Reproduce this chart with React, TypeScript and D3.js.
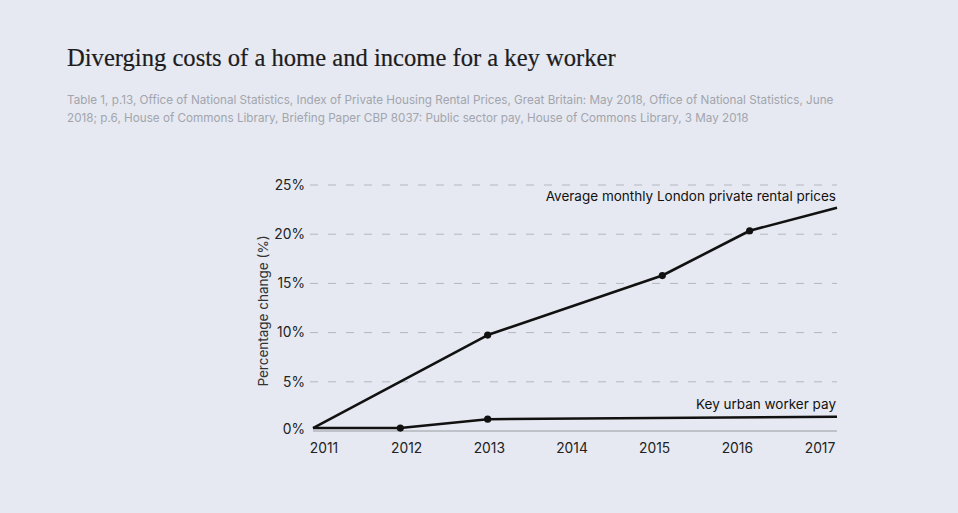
import React from 'react'
import * as d3 from 'd3'

interface Point {
  year: number
  value: number
}

const years = [2011, 2012, 2013, 2014, 2015, 2016, 2017]
const yTicks = [0, 5, 10, 15, 20, 25]

const rentYears = [2011, 2013, 2015, 2016, 2017]
const rentValues = [0.3, 9.75, 15.8, 20.35, 22.7]

const payYears = [2011, 2012, 2013, 2017]
const payValues = [0.3, 0.3, 1.2, 1.45]

const title = 'Diverging costs of a home and income for a key worker'
const sourceLines = [
  'Table 1, p.13, Office of National Statistics, Index of Private Housing Rental Prices, Great Britain: May 2018, Office of National Statistics, June',
  '2018; p.6, House of Commons Library, Briefing Paper CBP 8037: Public sector pay, House of Commons Library, 3 May 2018',
]
const rentLabel = 'Average monthly London private rental prices'
const payLabel = 'Key urban worker pay'
const yLabel = 'Percentage change (%)'

const rent: Point[] = rentYears.map((year, i) => ({ year, value: rentValues[i] }))
const pay: Point[] = payYears.map((year, i) => ({ year, value: payValues[i] }))

const width = 958
const height = 513
const sans = 'Inter, "Noto Sans", sans-serif'

const App = () => {
  const xScale = d3.scaleLinear().domain([2011, 2017]).range([313, 837])
  const yScale = d3.scaleLinear().domain([0, 25]).range([431, 185])
  // labels are spread edge to edge like a space-between row
  const labelScale = d3.scalePoint<number>().domain(years).range([324, 820])

  const line = d3
    .line<Point>()
    .x((d) => xScale(d.year))
    .y((d) => yScale(d.value))

  const series = [rent, pay]

  return (
    <svg
      width={width}
      height={height}
      style={{ position: 'absolute', left: 0, top: 0, background: '#e6e9f1' }}
    >
      <rect width={width} height={height} fill="#e6e9f1" />
      <text
        x={67}
        y={66}
        fontFamily='"Liberation Serif", "DejaVu Serif", serif'
        fontSize={24.6}
        fill="#1c1c1e"
        stroke="#1c1c1e"
        strokeWidth={0.2}
      >
        {title}
      </text>
      {sourceLines.map((s, i) => (
        <text
          key={i}
          x={67}
          y={104 + i * 18}
          fontFamily={sans}
          fontSize={11.7}
          fill="#a2a5ad"
        >
          {s}
        </text>
      ))}

      {yTicks.map((t) => (
        <g key={t}>
          {t === 0 ? (
            <line
              x1={313}
              x2={837}
              y1={yScale(t)}
              y2={yScale(t)}
              stroke="#9a9ca3"
              strokeWidth={1.2}
            />
          ) : (
            <line
              x1={310}
              x2={837}
              y1={yScale(t)}
              y2={yScale(t)}
              stroke="#b4b7bf"
              strokeWidth={1}
              strokeDasharray="8 10"
            />
          )}
          <text
            x={305}
            y={yScale(t) - (t === 0 ? 2 : 0)}
            dy="0.35em"
            textAnchor="end"
            fontFamily={sans}
            fontSize={13.8}
            fill="#222"
          >
            {t}%
          </text>
        </g>
      ))}

      {years.map((y) => (
        <text
          key={y}
          x={labelScale(y)}
          y={453}
          textAnchor="middle"
          fontFamily={sans}
          fontSize={13.8}
          fill="#222"
        >
          {y}
        </text>
      ))}

      <text
        transform={`translate(268, 311) rotate(-90)`}
        textAnchor="middle"
        fontFamily={sans}
        fontSize={13.5}
        fill="#333"
      >
        {yLabel}
      </text>

      {series.map((s, i) => (
        <g key={i}>
          <path
            d={line(s) || ''}
            fill="none"
            stroke="#111"
            strokeWidth={2.6}
            strokeLinejoin="round"
          />
          {s.slice(1, -1).map((d) => (
            <circle
              key={d.year}
              cx={xScale(d.year)}
              cy={yScale(d.value)}
              r={3.6}
              fill="#111"
            />
          ))}
        </g>
      ))}

      <text
        x={836}
        y={201}
        textAnchor="end"
        fontFamily={sans}
        fontSize={13.5}
        fill="#111"
      >
        {rentLabel}
      </text>
      <text
        x={836}
        y={409}
        textAnchor="end"
        fontFamily={sans}
        fontSize={13.5}
        fill="#111"
      >
        {payLabel}
      </text>
    </svg>
  )
}

export default App
